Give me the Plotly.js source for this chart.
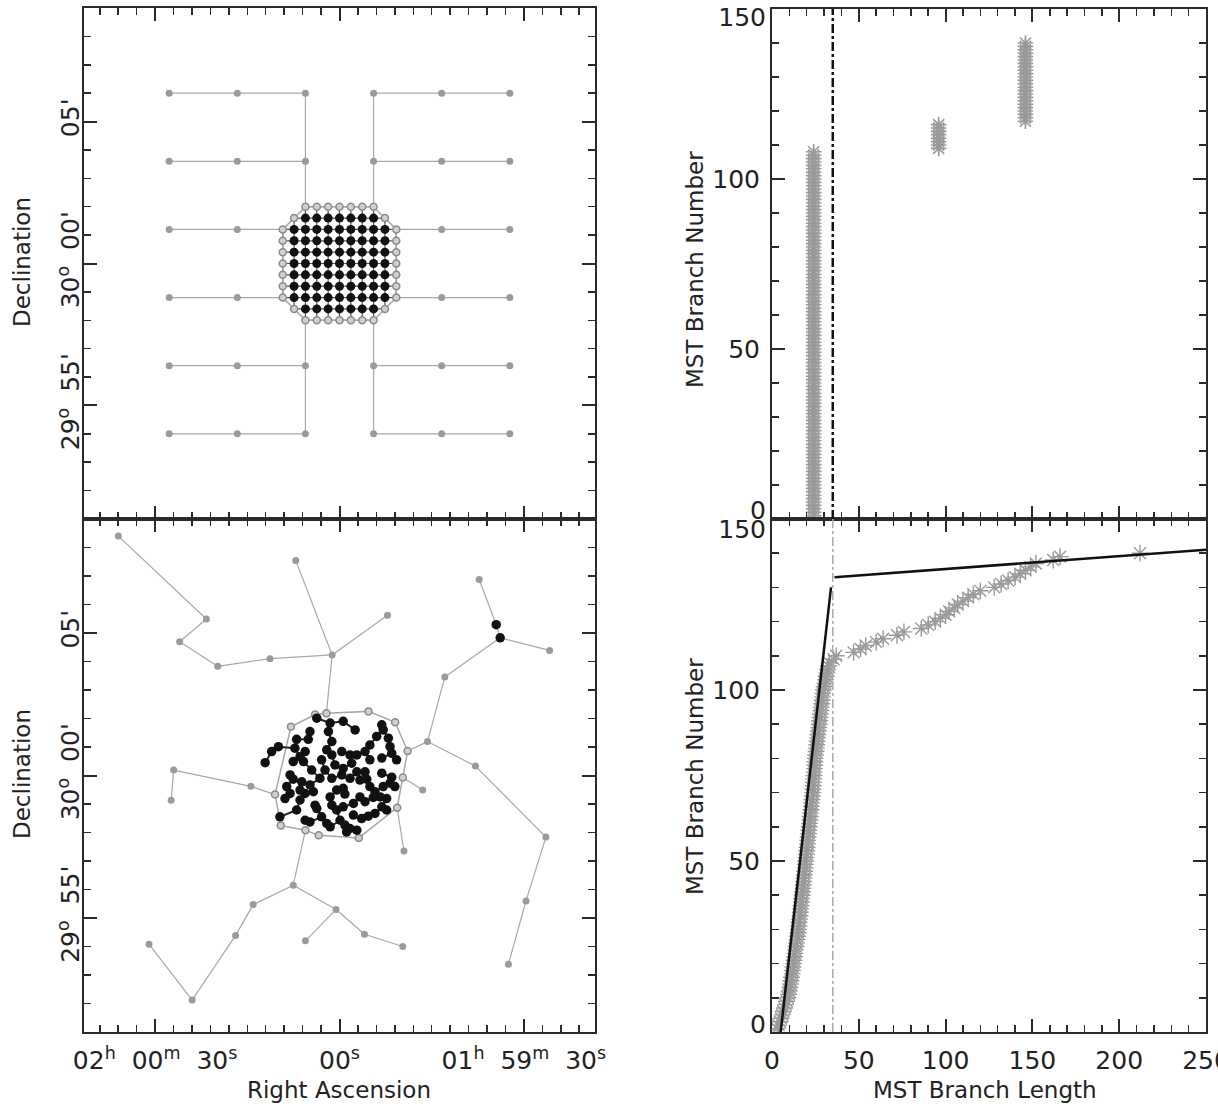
<!DOCTYPE html>
<html><head><meta charset="utf-8">
<script src="https://cdn.plot.ly/plotly-3.0.1.min.js"></script>
<style>html,body{margin:0;padding:0;background:#fff}#chart{width:1218px;height:1108px}</style>
</head><body><div id="chart"></div>
<script>
// ---------- DATA (offsets in arcmin from 02h00m00s, +30d00'; x positive = east/left) ----------
// Top-left: regular model, outer stars
const tlOuterX = [6.0,3.6,1.2,-1.2,-3.6,-6.0, 6.0,3.6,1.2,-1.2,-3.6,-6.0, 6.0,3.6,-3.6,-6.0, 6.0,3.6,-3.6,-6.0, 6.0,3.6,1.2,-1.2,-3.6,-6.0, 6.0,3.6,1.2,-1.2,-3.6,-6.0];
const tlOuterY = [6.0,6.0,6.0,6.0,6.0,6.0, 3.6,3.6,3.6,3.6,3.6,3.6, 1.2,1.2,1.2,1.2, -1.2,-1.2,-1.2,-1.2, -3.6,-3.6,-3.6,-3.6,-3.6,-3.6, -6.0,-6.0,-6.0,-6.0,-6.0,-6.0];
const tlOuterEdges = [[0,1],[1,2],[3,4],[4,5],[6,7],[7,8],[9,10],[10,11],[12,13],[14,15],[16,17],[18,19],[20,21],[21,22],[23,24],[24,25],[26,27],[27,28],[29,30],[30,31],[2,8],[3,9],[22,28],[23,29]];
const tlAttachOuter = [8,9,13,14,17,18,22,23];
// Top-left: dense core, one row per Dec value
const tlCoreRowY = [2.0,1.6,1.2,0.8,0.4,0.0,-0.4,-0.8,-1.2,-1.6,-2.0];
const tlCoreRowX = [
  [-1.2,-0.8,-0.4,0,0.4,0.8,1.2],
  [-1.6,-1.2,-0.8,-0.4,0,0.4,0.8,1.2,1.6],
  [-2.0,-1.6,-1.2,-0.8,-0.4,0,0.4,0.8,1.2,1.6,2.0],
  [-2.0,-1.6,-1.2,-0.8,-0.4,0,0.4,0.8,1.2,1.6,2.0],
  [-2.0,-1.6,-1.2,-0.8,-0.4,0,0.4,0.8,1.2,1.6,2.0],
  [-2.0,-1.6,-1.2,-0.8,-0.4,0,0.4,0.8,1.2,1.6,2.0],
  [-2.0,-1.6,-1.2,-0.8,-0.4,0,0.4,0.8,1.2,1.6,2.0],
  [-2.0,-1.6,-1.2,-0.8,-0.4,0,0.4,0.8,1.2,1.6,2.0],
  [-2.0,-1.6,-1.2,-0.8,-0.4,0,0.4,0.8,1.2,1.6,2.0],
  [-1.6,-1.2,-0.8,-0.4,0,0.4,0.8,1.2,1.6],
  [-1.2,-0.8,-0.4,0,0.4,0.8,1.2]
];

// Bottom-left: random model, outer stars (last two are the black pair)
const blOuterX = [7.79,4.69,5.63,4.29,2.45,0.26,1.54,-1.69,-4.92,-7.40,-3.71,-3.10,-4.79,-7.27,-6.57,-5.95,5.84,5.93,3.12,-2.93,-2.27,1.63,3.04,3.66,5.19,6.71,0.12,1.20,-0.88,-2.23,-5.52,-5.66];
const blOuterY = [8.40,5.49,4.69,3.83,4.10,4.23,7.54,5.62,6.88,4.39,3.46,1.19,0.33,-2.16,-4.40,-6.62,0.19,-0.87,-0.38,-0.51,-2.65,-3.85,-4.53,-5.61,-7.88,-5.92,-4.70,-5.80,-5.57,-6.00,5.29,4.83];
const blOuterBlack = [30,31];
const blOuterEdges = [[0,1],[1,2],[2,3],[3,4],[4,5],[5,6],[5,7],[8,30],[30,31],[31,9],[31,10],[10,11],[11,12],[12,13],[13,14],[14,15],[17,16],[16,18],[21,22],[22,23],[23,24],[24,25],[21,26],[26,27],[26,28],[28,29]];
// Bottom-left: cluster boundary stars (grey), in order round the boundary
const blHullX = [1.71,0.86,0.46,-1.02,-1.96,-2.40,-2.23,-2.03,-0.68,0.73,1.20,2.07,2.27];
const blHullY = [1.71,2.14,2.18,2.25,1.87,0.86,-0.07,-1.13,-2.19,-2.10,-1.92,-1.75,-0.67];
const blAttach = [[5,2],[11,5],[18,12],[19,6],[20,7],[21,10]];
// Bottom-left: cluster members (black)
const blCoreX = [2.62,2.39,2.15,0.80,0.33,-0.13,-0.55,-1.49,1.04,1.10,1.51,1.57,0.39,0.27,-0.08,0.27,0.63,-1.07,-0.90,-0.61,-1.31,-1.54,-1.72,-1.78,-1.84,-1.49,1.63,1.27,1.74,1.63,1.33,1.04,0.92,0.69,0.27,-0.08,-0.13,-0.43,-0.61,-0.90,-0.96,-1.07,-1.25,-1.43,-1.66,-1.84,-1.78,-1.95,1.92,1.74,1.39,1.21,0.86,0.33,0.27,0.10,-0.13,-0.19,-0.72,-0.90,-1.19,-1.49,-1.66,2.10,1.51,1.21,0.80,1.04,0.45,0.33,-0.02,-0.19,-0.37,-0.49,-0.78,-1.01,-1.25,-0.25,-0.61,
  1.21,1.39,0.45,-0.37,-0.72,0.51,0.98,-0.37,-0.49,-0.13,0.63,1.39,1.86,-1.54,-1.49,-2.01,-1.07,0.16,0.10];
const blCoreY = [0.45,0.84,1.01,2.01,1.84,1.90,1.60,1.78,1.54,1.27,1.27,0.96,1.54,1.19,0.84,0.72,0.55,1.07,0.84,0.72,1.37,1.60,1.31,1.01,0.78,0.61,0.49,0.49,0.02,-0.13,-0.22,-0.33,-0.57,-0.10,-0.10,0.02,0.25,0.43,0.13,0.13,-0.13,-0.39,-0.57,-0.75,-0.81,-0.06,-0.27,-0.39,-0.81,-0.63,-0.51,-0.63,-1.04,-0.75,-1.04,-1.21,-0.45,-0.65,-0.75,-0.92,-0.77,-1.10,-1.21,-1.45,-1.21,-1.57,-1.16,-1.63,-1.68,-1.80,-1.57,-1.74,-1.86,-1.39,-1.51,-1.43,-1.33,-1.98,-1.92,
  0.84,0.66,0.90,0.72,-0.16,0.19,0.19,-0.10,-0.98,-1.10,-1.45,-0.86,-0.39,-0.39,0.08,0.55,0.55,0.37,-0.51];

// Top-right: branch lengths (arcsec) of the regular model and how many branches have each
const trLengths = [24, 96, 146];
const trCounts = [108, 8, 24];
const cutLength = 35;
// Bottom-right: sorted branch lengths of the random model (branch number = position)
const brLengths = [3.0,3.8,4.6,5.2,5.9,6.5,7.2,7.8,8.5,9.1,
 9.6,9.9,10.3,10.7,10.9,11.2,11.6,11.8,12.0,12.4,
 12.7,12.9,13.2,13.6,13.8,14.1,14.5,14.7,15.0,15.3,
 15.5,15.6,15.9,16.2,16.3,16.5,16.8,17.0,17.1,17.4,
 17.6,17.9,18.0,18.2,18.5,18.6,18.8,19.1,19.2,19.4,
 19.6,19.9,20.0,20.2,20.5,20.6,20.8,21.1,21.2,21.4,
 21.6,21.9,22.0,22.2,22.5,22.6,22.8,23.0,23.3,23.5,
 23.6,23.8,23.9,24.1,24.2,24.3,24.5,24.6,24.7,24.9,
 25.1,25.4,25.6,25.8,26.0,26.3,26.4,26.7,26.9,27.2,
 27.4,27.7,27.9,28.1,28.3,28.6,28.9,29.1,29.3,29.6,
 30.0,30.5,30.8,31.2,31.7,32.0,32.5,33.0,
 35.5,37,47,51,54,60,64,72,76,86,90,94,97,100,102,105,107,110,113,116,120,128,132,136,140,143,146,149,152,162,166,212];
const fitSteepX = [5, 34], fitSteepY = [0, 130];
const fitFlatX = [36, 250], fitFlatY = [133, 141];

// Axis labels
const raTickText = ['02<sup>h</sup>  00<sup>m</sup>  30<sup>s</sup>', '00<sup>s</sup>', '01<sup>h</sup>  59<sup>m</sup>  30<sup>s</sup>'];
const decTickVals = [5, 0, -5];
const decTickText = ["05'", "30<sup>o</sup>  00'", "29<sup>o</sup>  55'"];
const branchTicks = [0, 50, 100, 150];

// ---------- BUILD ----------
const FONT = 'DejaVu Sans';
const GREY_LINE = '#a8a8a8', GREY_PT = '#9a9a9a', INK = '#2a2a2a', TXT = '#222';
const RA30 = 7.5 * Math.cos(30 * Math.PI / 180); // 30 s of RA in arcmin at Dec +30

function segs(ax, ay, bx, by, pairs) {
  const x = [], y = [];
  pairs.forEach(([i, j]) => { x.push(ax[i], bx[j], null); y.push(ay[i], by[j], null); });
  return {x, y};
}
function nearest(px, py, xs, ys) {
  let best = 0, bd = Infinity;
  xs.forEach((v, k) => { const d = (v - px) ** 2 + (ys[k] - py) ** 2; if (d < bd) { bd = d; best = k; } });
  return best;
}
function mstEdges(xs, ys) {
  const n = xs.length, inT = new Array(n).fill(false), dist = new Array(n).fill(Infinity), par = new Array(n).fill(-1);
  dist[0] = 0; const edges = [];
  for (let it = 0; it < n; it++) {
    let u = -1;
    for (let k = 0; k < n; k++) if (!inT[k] && (u < 0 || dist[k] < dist[u])) u = k;
    inT[u] = true; if (par[u] >= 0) edges.push([par[u], u]);
    for (let k = 0; k < n; k++) if (!inT[k]) {
      const d = Math.hypot(xs[k] - xs[u], ys[k] - ys[u]);
      if (d < dist[k]) { dist[k] = d; par[k] = u; }
    }
  }
  return edges;
}

// top-left core points
const tlCoreX = [], tlCoreY = [];
const tlBlackX = [], tlBlackY = [], tlGreyX = [], tlGreyY = [];
tlCoreRowX.forEach((row, r) => {
  row.forEach((x, c) => {
    tlCoreX.push(x); tlCoreY.push(tlCoreRowY[r]);
    const edge = (r === 0 || r === tlCoreRowY.length - 1 || c === 0 || c === row.length - 1);
    if (edge) { tlGreyX.push(x); tlGreyY.push(tlCoreRowY[r]); } else { tlBlackX.push(x); tlBlackY.push(tlCoreRowY[r]); }
  });
});
const meshX = [], meshY = [];
tlCoreRowX.forEach((row, r) => { meshX.push(row[0], row[row.length - 1], null); meshY.push(tlCoreRowY[r], tlCoreRowY[r], null); });
tlCoreRowX[2].forEach(cx => {
  const ys = tlCoreY.filter((v, k) => Math.abs(tlCoreX[k] - cx) < 1e-6);
  meshX.push(cx, cx, null); meshY.push(Math.max(...ys), Math.min(...ys), null);
});
const hullPX = [], hullPY = [];
tlCoreRowX.forEach((row, r) => { hullPX.push(row[0]); hullPY.push(tlCoreRowY[r]); });
for (let r = tlCoreRowX.length - 1; r >= 0; r--) { const row = tlCoreRowX[r]; hullPX.push(row[row.length - 1]); hullPY.push(tlCoreRowY[r]); }
hullPX.push(hullPX[0]); hullPY.push(hullPY[0]);
const tlB = segs(tlOuterX, tlOuterY, tlOuterX, tlOuterY, tlOuterEdges);
tlAttachOuter.forEach(i => {
  const k = nearest(tlOuterX[i], tlOuterY[i], tlCoreX, tlCoreY);
  tlB.x.push(tlOuterX[i], tlCoreX[k], null); tlB.y.push(tlOuterY[i], tlCoreY[k], null);
});

// bottom-left
const blB = segs(blOuterX, blOuterY, blOuterX, blOuterY, blOuterEdges);
const blA = segs(blOuterX, blOuterY, blHullX, blHullY, blAttach);
blB.x.push(...blA.x); blB.y.push(...blA.y);
const blHullLX = blHullX.concat([blHullX[0]]), blHullLY = blHullY.concat([blHullY[0]]);
const blM = segs(blCoreX, blCoreY, blCoreX, blCoreY, mstEdges(blCoreX, blCoreY));
const blOuterGreyX = blOuterX.filter((v, k) => !blOuterBlack.includes(k));
const blOuterGreyY = blOuterY.filter((v, k) => !blOuterBlack.includes(k));
const blBlackX = blCoreX.concat(blOuterBlack.map(k => blOuterX[k]));
const blBlackY = blCoreY.concat(blOuterBlack.map(k => blOuterY[k]));

// top-right expansion
const trX = [], trY = [];
let nb = 0;
trLengths.forEach((L, g) => { for (let c = 0; c < trCounts[g]; c++) { nb++; trX.push(L); trY.push(nb); } });
const brY = brLengths.map((v, k) => k + 1);

const line = (x, y, xa, ya, color, width, dash) => ({type:'scatter', mode:'lines', x, y, xaxis:xa, yaxis:ya, line:{color, width, dash:dash||'solid'}, hoverinfo:'skip', connectgaps:false});
const pts = (x, y, xa, ya, color, size, sym, lw, lc) => ({type:'scatter', mode:'markers', x, y, xaxis:xa, yaxis:ya, marker:{color, size, symbol:sym||'circle', line:{width:lw||0, color:lc||color}}, hoverinfo:'skip'});

const traces = [
  line(tlB.x, tlB.y, 'x', 'y', GREY_LINE, 1.2),
  line(meshX, meshY, 'x', 'y', '#555', 1.2),
  line(hullPX, hullPY, 'x', 'y', GREY_LINE, 1.5),
  pts(tlOuterX, tlOuterY, 'x', 'y', GREY_PT, 7),
  pts(tlGreyX, tlGreyY, 'x', 'y', '#d0d0d0', 7, 'circle', 1.5, '#8a8a8a'),
  pts(tlBlackX, tlBlackY, 'x', 'y', '#111', 9),

  line(blB.x, blB.y, 'x2', 'y2', GREY_LINE, 1.2),
  line(blHullLX, blHullLY, 'x2', 'y2', GREY_LINE, 1.5),
  line(blM.x, blM.y, 'x2', 'y2', '#222', 2),
  pts(blOuterGreyX, blOuterGreyY, 'x2', 'y2', GREY_PT, 7),
  pts(blHullX, blHullY, 'x2', 'y2', '#d0d0d0', 7, 'circle', 1.5, '#8a8a8a'),
  pts(blBlackX, blBlackY, 'x2', 'y2', '#111', 9.5),

  pts(trX, trY, 'x3', 'y3', '#9a9a9a', 13, 'asterisk-open', 1.6, '#9a9a9a'),

  pts(brLengths, brY, 'x4', 'y4', '#9a9a9a', 14, 'asterisk-open', 1.4, '#9a9a9a'),
  line(fitSteepX, fitSteepY, 'x4', 'y4', '#111', 2.5),
  line(fitFlatX, fitFlatY, 'x4', 'y4', '#111', 2.5),
  // empty traces so the label-only overlay axes are drawn
  {type:'scatter', x:[], y:[], xaxis:'x3', yaxis:'y5', hoverinfo:'skip'},
  {type:'scatter', x:[], y:[], xaxis:'x3', yaxis:'y6', hoverinfo:'skip'},
  {type:'scatter', x:[], y:[], xaxis:'x4', yaxis:'y7', hoverinfo:'skip'},
  {type:'scatter', x:[], y:[], xaxis:'x4', yaxis:'y8', hoverinfo:'skip'}
];

const W = 1218, H = 1108;
const px = v => v / W, py = v => 1 - v / H;
const tickFont = {family:FONT, size:25, color:TXT};
const base = {showline:true, linecolor:INK, linewidth:2, mirror:'ticks', ticks:'inside', ticklen:13, tickwidth:2, tickcolor:INK,
  showgrid:false, zeroline:false, fixedrange:true, tickfont:tickFont, ticklabeloverflow:'allow'};
const minor = d => ({ticks:'inside', ticklen:7, tickwidth:1.5, tickcolor:INK, showgrid:false, tickmode:'linear', tick0:0, dtick:d});
const A = o => Object.assign({}, base, o);
// label-only axis showing one end label nudged inward (positive shift = downwards), as in the reference
const labelAxis = (over, anch, val, shift) => ({overlaying:over, anchor:anch, side:'left', range:[0, 150], tickmode:'array',
  tickvals:[val], ticktext:[String(val)], ticklabelshift:shift, ticklabelstandoff:5, showline:false, ticks:'', showgrid:false,
  zeroline:false, fixedrange:true, tickfont:tickFont, ticklabeloverflow:'allow'});
const innerLabels = branchTicks.map(v => (v === 0 || v === 150) ? '' : String(v));

const ann = (text, x, y, angle) => ({text, xref:'paper', yref:'paper', x:px(x), y:py(y), xanchor:'center', yanchor:'middle', textangle:angle||0, showarrow:false, font:{family:FONT, size:23, color:TXT}});

const layout = {
  width:W, height:H, margin:{l:0, r:0, t:0, b:0}, showlegend:false,
  paper_bgcolor:'#fff', plot_bgcolor:'#fff',
  xaxis: A({domain:[px(84), px(595)], anchor:'y', range:[9, -9], tickmode:'array', tickvals:[RA30, 0, -RA30], ticktext:raTickText, showticklabels:false, minor:minor(RA30/10)}),
  yaxis: A({domain:[py(519), py(8)], anchor:'x', range:[-9, 9], tickmode:'array', tickvals:decTickVals, ticktext:decTickText, tickangle:-90, minor:minor(1), ticklabelstandoff:-7}),
  xaxis2: A({domain:[px(84), px(595)], anchor:'y2', range:[9, -9], tickmode:'array', tickvals:[RA30, 0, -RA30], ticktext:raTickText, minor:minor(RA30/10), ticklabelstandoff:5}),
  yaxis2: A({domain:[py(1032), py(519)], anchor:'x2', range:[-9, 9], tickmode:'array', tickvals:decTickVals, ticktext:decTickText, tickangle:-90, minor:minor(1), ticklabelstandoff:-7}),
  xaxis3: A({domain:[px(772), px(1206)], anchor:'y3', range:[0, 250], tickmode:'linear', tick0:0, dtick:50, showticklabels:false, minor:minor(10)}),
  yaxis3: A({domain:[py(519), py(9)], anchor:'x3', range:[0, 150], tickmode:'array', tickvals:branchTicks, ticktext:innerLabels, minor:minor(10), ticklabelstandoff:5}),
  xaxis4: A({domain:[px(772), px(1206)], anchor:'y4', range:[0, 250], tickmode:'linear', tick0:0, dtick:50, minor:minor(10), ticklabelstandoff:5}),
  yaxis4: A({domain:[py(1032), py(519)], anchor:'x4', range:[0, 150], tickmode:'array', tickvals:branchTicks, ticktext:innerLabels, minor:minor(10), ticklabelstandoff:5}),
  yaxis5: labelAxis('y3', 'x3', 150, 8),
  yaxis6: labelAxis('y3', 'x3', 0, -9),
  yaxis7: labelAxis('y4', 'x4', 150, 10),
  yaxis8: labelAxis('y4', 'x4', 0, -8),
  shapes: [
    {type:'line', xref:'x3', yref:'y3 domain', x0:cutLength, x1:cutLength, y0:0, y1:1, line:{color:'#111', width:2.5, dash:'dashdot'}},
    {type:'line', xref:'x4', yref:'y4 domain', x0:cutLength, x1:cutLength, y0:0, y1:1, line:{color:'#aaa', width:1.5, dash:'dashdot'}}
  ],
  annotations: [
    ann('Declination', 22, 262, -90),
    ann('Declination', 22, 774, -90),
    ann('Right Ascension', 339, 1090),
    ann('MST Branch Number', 695, 270, -90),
    ann('MST Branch Number', 695, 777, -90),
    ann('MST Branch Length', 985, 1090)
  ]
};

Plotly.newPlot('chart', traces, layout, {staticPlot:true, displayModeBar:false});
</script></body></html>
